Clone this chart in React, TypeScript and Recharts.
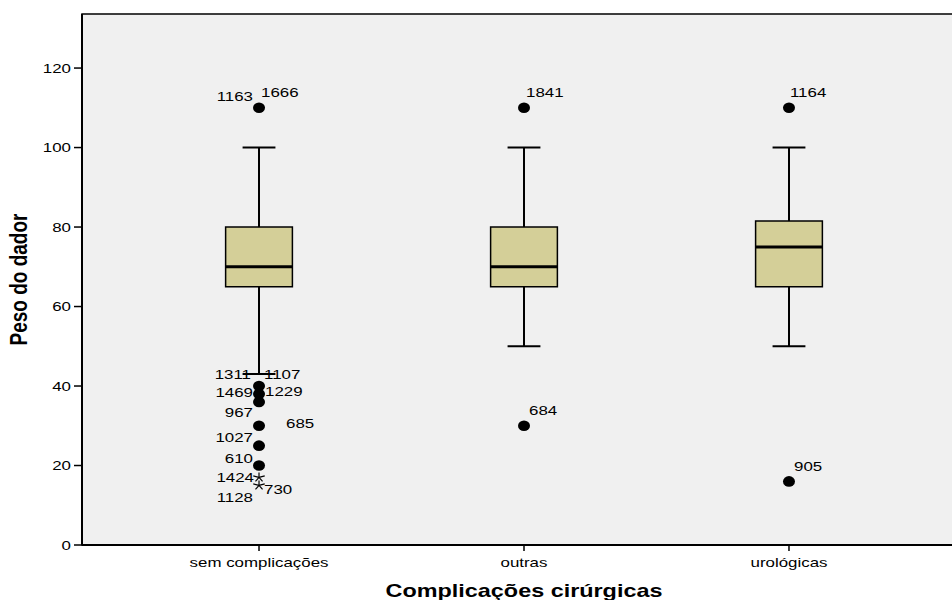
import React from "react"
import { ComposedChart, XAxis, YAxis, Scatter, ReferenceArea, ReferenceLine } from "recharts"

// boxplot stats per category
const categories = ["sem complicações", "outras", "urológicas"]
const whiskerLow = [43, 50, 50]
const q1 = [65, 65, 65]
const median = [70, 70, 75]
const q3 = [80, 80, 81.5]
const whiskerHigh = [100, 100, 100]

// outliers (circles), with their case numbers
const outlierGroups = [0, 0, 0, 0, 0, 0, 0, 1, 1, 2, 2]
const outlierValues = [110, 40, 38, 36, 30, 25, 20, 110, 30, 110, 16]
const outlierCases = [
  ["1163", "1666"],
  ["1311", "1107"],
  ["1469", "1229"],
  [],
  ["967", "685"],
  ["1027"],
  ["610"],
  ["1841"],
  ["684"],
  ["1164"],
  ["905"],
]

// extremes (stars)
const extremeGroups = [0, 0]
const extremeValues = [17, 15]
const extremeCases = [["1424"], ["1128", "730"]]

const yTicks = [0, 20, 40, 60, 80, 100, 120]

const Y_MAX = 133.6
const X_MIN = -0.668
const X_MAX = 2.668
const BOX_HALF = 0.126
const CAP_HALF = 0.062
const FONT = "'Liberation Sans', Arial, sans-serif"
const STRETCH = "scale(1.3,1)"

// label placement next to each point: dx, dy, anchor
const caseNudge: Record<string, [number, number, "start" | "end"]> = {
  "1163": [-6, -11, "end"],
  "1666": [2, -15, "start"],
  "1311": [-8, -12, "end"],
  "1107": [5, -12, "start"],
  "1469": [-6, -1, "end"],
  "1229": [6, -2, "start"],
  "967": [-6, -13, "end"],
  "685": [27, -2, "start"],
  "1027": [-6, -8, "end"],
  "610": [-6, -7, "end"],
  "1424": [-5, 0, "end"],
  "730": [5, 4, "start"],
  "1128": [-6, 12, "end"],
  "1841": [2, -15, "start"],
  "684": [5, -15, "start"],
  "1164": [1, -15, "start"],
  "905": [5, -15, "start"],
}

const points = [
  ...outlierValues.map((v, i) => ({ x: outlierGroups[i], y: v, cases: outlierCases[i], kind: "o" })),
  ...extremeValues.map((v, i) => ({ x: extremeGroups[i], y: v, cases: extremeCases[i], kind: "s" })),
]

const CaseLabels = ({ cx, cy, cases }: { cx: number; cy: number; cases: string[] }) => (
  <>
    {cases.map((c) => {
      const [dx, dy, anchor] = caseNudge[c] || [4, -12, "start"]
      return (
        <g key={c} transform={`translate(${cx + dx},${cy + dy + 4.5})`}>
          <text transform={STRETCH} textAnchor={anchor} fontSize={13} fontFamily={FONT} fill="#000">
            {c}
          </text>
        </g>
      )
    })}
  </>
)

const PointShape = (props: any) => {
  const { cx, cy, payload } = props
  if (cx == null || cy == null) return null
  if (payload.kind === "s") {
    const r = 5
    const arms = [0, 1, 2, 3, 4].map((k) => {
      const a = -Math.PI / 2 + (k * 2 * Math.PI) / 5
      return <line key={k} x1={cx} y1={cy} x2={cx + r * 1.2 * Math.cos(a)} y2={cy + r * Math.sin(a)} stroke="#000" strokeWidth={1.2} />
    })
    return (
      <g>
        {arms}
        <CaseLabels cx={cx} cy={cy} cases={payload.cases} />
      </g>
    )
  }
  return (
    <g>
      <ellipse cx={cx} cy={cy} rx={6} ry={5.3} fill="#000" />
      <CaseLabels cx={cx} cy={cy} cases={payload.cases} />
    </g>
  )
}

const XTick = (props: any) => {
  const { x, y, payload } = props
  return (
    <g transform={`translate(${x},${y + 14})`}>
      <text transform={STRETCH} textAnchor="middle" fontSize={13} fontFamily={FONT} fill="#000">
        {categories[payload.value]}
      </text>
    </g>
  )
}

const YTick = (props: any) => {
  const { x, y, payload } = props
  return (
    <g transform={`translate(${x - 1},${y + 4.5})`}>
      <text transform={STRETCH} textAnchor="end" fontSize={13} fontFamily={FONT} fill="#000">
        {payload.value}
      </text>
    </g>
  )
}

export default function App() {
  return (
    <div style={{ position: "fixed", left: 0, top: 0, width: 952, height: 600, overflow: "hidden", background: "#fff" }}>
      <ComposedChart width={980} height={600} margin={{ top: 14, right: 14, bottom: 0, left: 0 }}>
        <XAxis
          type="number"
          dataKey="x"
          domain={[X_MIN, X_MAX]}
          ticks={[0, 1, 2]}
          allowDataOverflow
          height={55}
          tickSize={6}
          tick={<XTick />}
          tickLine={{ stroke: "#000", strokeWidth: 1.5 }}
          axisLine={{ stroke: "#000", strokeWidth: 2 }}
          label={{
            content: (p: any) => {
              const vb = p.viewBox
              return (
                <g transform={`translate(${vb.x + vb.width / 2},${vb.y + 52})`}>
                  <text transform={STRETCH} textAnchor="middle" fontSize={18} fontWeight="bold" fontFamily={FONT} fill="#000">
                    Complicações cirúrgicas
                  </text>
                </g>
              )
            },
          }}
        />
        <YAxis
          type="number"
          dataKey="y"
          domain={[0, Y_MAX]}
          ticks={yTicks}
          allowDataOverflow
          width={82}
          tickSize={8}
          tick={<YTick />}
          tickLine={{ stroke: "#000", strokeWidth: 1.5 }}
          axisLine={{ stroke: "#000", strokeWidth: 2 }}
          label={{
            content: (p: any) => {
              const vb = p.viewBox
              return (
                <g transform={`translate(${27},${vb.y + vb.height / 2}) ${STRETCH} rotate(-90)`}>
                  <text textAnchor="middle" fontSize={19} fontWeight="bold" fontFamily={FONT} fill="#000">
                    Peso do dador
                  </text>
                </g>
              )
            },
          }}
        />

        {/* plot background + frame */}
        <ReferenceArea x1={X_MIN} x2={X_MAX} y1={0} y2={Y_MAX} fill="#F0F0F0" fillOpacity={1} stroke="#000" strokeWidth={1.5} />

        {categories.map((_, i) => (
          <ReferenceArea
            key={`box-${i}`}
            x1={i - BOX_HALF}
            x2={i + BOX_HALF}
            y1={q1[i]}
            y2={q3[i]}
            fill="#D4CF98"
            fillOpacity={1}
            stroke="#000"
            strokeWidth={1.5}
          />
        ))}

        {categories.map((_, i) => (
          <React.Fragment key={`wh-${i}`}>
            <ReferenceLine segment={[{ x: i, y: q3[i] }, { x: i, y: whiskerHigh[i] }]} stroke="#000" strokeWidth={2} />
            <ReferenceLine segment={[{ x: i, y: whiskerLow[i] }, { x: i, y: q1[i] }]} stroke="#000" strokeWidth={2} />
            <ReferenceLine segment={[{ x: i - CAP_HALF, y: whiskerHigh[i] }, { x: i + CAP_HALF, y: whiskerHigh[i] }]} stroke="#000" strokeWidth={2} />
            <ReferenceLine segment={[{ x: i - CAP_HALF, y: whiskerLow[i] }, { x: i + CAP_HALF, y: whiskerLow[i] }]} stroke="#000" strokeWidth={2} />
            <ReferenceLine segment={[{ x: i - BOX_HALF, y: median[i] }, { x: i + BOX_HALF, y: median[i] }]} stroke="#000" strokeWidth={3} />
          </React.Fragment>
        ))}

        <Scatter data={points} dataKey="y" shape={PointShape} isAnimationActive={false} />
      </ComposedChart>
    </div>
  )
}
